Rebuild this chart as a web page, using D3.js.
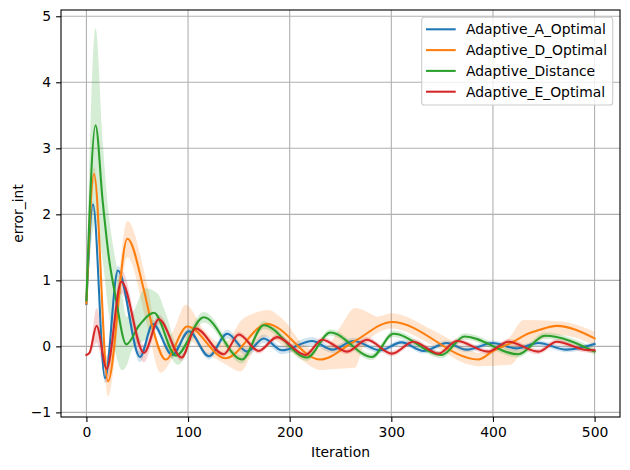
<!DOCTYPE html>
<html>
<head>
<meta charset="utf-8">
<script src="https://cdn.jsdelivr.net/npm/d3@7"></script>
<style>
  body { margin: 0; background: #fff; }
  svg { display: block; font-family: "DejaVu Sans", sans-serif; }
</style>
</head>
<body>
<div id="chart"></div>
<script>
// valori: [iterazione, media]
const seriesNames = ["Adaptive_A_Optimal", "Adaptive_D_Optimal", "Adaptive_Distance", "Adaptive_E_Optimal"];
const seriesColors = ["#1f77b4", "#ff7f0e", "#2ca02c", "#d62728"];
const iterTicks = [0, 100, 200, 300, 400, 500];
const valueTicks = [-1, 0, 1, 2, 3, 4, 5];

const aOptimal = [[0,0.64],[6.5,2.15],[18.3,-0.48],[31,1.15],[52.7,-0.16],[65.4,0.34],[84.5,-0.13],[100.8,0.23],
  [120.5,-0.15],[138.5,0.19],[158,-0.08],[174.5,0.12],[192.5,-0.06],[222,0.08],[242,-0.05],[263,0.08],[289,-0.06],
  [310,0.06],[331.6,-0.07],[354.6,0.05],[374,-0.05],[400,0.05],[423,-0.03],[444.6,0.05],[472.5,-0.05],[500,0.035]];
const dOptimal = [[0,0.65],[7.5,2.61],[21.2,-0.53],[40.3,1.63],[56.6,0.85],[64.8,0.3],[77.9,-0.2],[99.2,0.30],
  [136.8,-0.18],[177.8,0.34],[230,-0.2],[263,0.07],[300.6,0.37],[385.7,-0.2],[400,-0.07],[420,0.07],[431.5,0.17],
  [446,0.25],[462.7,0.31],[500,0.12]];
const distance = [[0,0.70],[9,3.35],[16,2.2],[22,1.36],[28.7,0.75],[39.3,0.03],[52,0.32],[66.4,0.51],[88,-0.14],
  [115.5,0.44],[153,-0.2],[174.5,0.32],[217,-0.17],[240,0.21],[281,-0.16],[302,0.19],[349.7,-0.13],[372,0.15],
  [425,-0.12],[451,0.16],[500,-0.08]];
const eOptimal = [[0,-0.13],[3,-0.1],[10,0.31],[20,-0.34],[34.4,0.98],[56.6,-0.1],[71.3,0.41],[93.6,-0.17],
  [107.4,0.27],[135,-0.12],[150,0.18],[169.5,-0.07],[187.6,0.14],[215.4,-0.13],[232,0.1],[256.4,-0.08],[276,0.1],
  [300.6,-0.11],[321.8,0.07],[346.4,-0.11],[364.4,0.08],[395.5,-0.08],[415,0.07],[444.6,-0.08],[462.7,0.07],
  [490,-0.05],[500,-0.06]];

// bande: [iterazione, minimo, massimo]
const aBand = [[0,0.62,0.66],[6.5,2.05,2.2],[18.3,-0.56,-0.4],[31,1.05,1.22],[52.7,-0.24,-0.08],[65.4,0.28,0.4],
  [84.5,-0.18,-0.08],[100.8,0.18,0.28],[120.5,-0.2,-0.1],[138.5,0.12,0.25],[158,-0.15,-0.02],[174.5,0.05,0.18],
  [192.5,-0.12,0.0],[222,0.02,0.14],[242,-0.1,0.0],[263,0.03,0.13],[289,-0.1,-0.02],[310,0.02,0.1],
  [331.6,-0.11,-0.03],[354.6,0.01,0.09],[374,-0.09,-0.01],[400,0.01,0.09],[423,-0.07,0.01],[444.6,0.01,0.09],
  [472.5,-0.09,-0.01],[500,0.0,0.07]];
const dBand = [[0,0.6,0.7],[7.5,2.48,2.72],[21.2,-0.76,-0.3],[40.3,1.35,1.9],[60,0.3,0.92],[73,-0.4,-0.02],
  [86,-0.15,0.25],[97.5,0.12,0.63],[115.5,-0.08,0.25],[132,-0.23,0.05],[140,-0.3,0.1],[151.6,-0.38,0.38],
  [165,-0.05,0.5],[178,0.15,0.55],[194,0.0,0.4],[214,-0.23,0.02],[224,-0.33,-0.05],[232,-0.36,-0.02],
  [237,-0.35,0.0],[250,-0.34,0.3],[264.5,-0.32,0.58],[271,-0.06,0.56],[279,0.12,0.5],[286,0.2,0.45],
  [300.6,0.27,0.5],[340,0.02,0.25],[377,-0.28,-0.05],[386,-0.3,-0.1],[417,-0.28,0.15],[430,-0.05,0.4],
  [466,0.17,0.38],[500,0.02,0.22]];
const cBand = [[0,0.66,0.74],[9,1.9,4.82],[16,1.3,3.1],[22,0.5,2.0],[28.7,-0.1,1.3],[35,-0.36,0.8],
  [39.3,-0.3,0.45],[45,-0.05,0.5],[58,0.1,0.88],[70,0.3,0.8],[78,0.0,0.5],[90,-0.28,0.02],[115.5,0.36,0.52],
  [153,-0.26,-0.14],[174.5,0.26,0.38],[217,-0.22,-0.12],[240,0.16,0.26],[281,-0.21,-0.11],[302,0.14,0.24],
  [349.7,-0.18,-0.08],[372,0.1,0.2],[425,-0.17,-0.07],[451,0.11,0.21],[500,-0.13,-0.03]];
const eBand = [[0,-0.15,-0.11],[3,-0.13,-0.07],[10,0.05,0.58],[20,-0.55,-0.15],[34.4,0.8,1.15],
  [56.6,-0.24,0.02],[71.3,0.34,0.48],[93.6,-0.22,-0.12],[107.4,0.23,0.31],[135,-0.16,-0.08],[150,0.14,0.22],
  [169.5,-0.11,-0.03],[187.6,0.1,0.18],[215.4,-0.17,-0.09],[232,0.06,0.14],[256.4,-0.12,-0.04],[276,0.06,0.14],
  [300.6,-0.15,-0.07],[321.8,0.03,0.11],[346.4,-0.15,-0.07],[364.4,0.04,0.12],[395.5,-0.12,-0.04],
  [415,0.03,0.11],[444.6,-0.12,-0.04],[462.7,0.03,0.11],[490,-0.09,-0.01],[500,-0.1,-0.02]];

const means = [aOptimal, dOptimal, distance, eOptimal];
const bands = [aBand, dBand, cBand, eBand];

const WIDTH = 630, HEIGHT = 470;
const margin = { top: 10, right: 10, bottom: 53, left: 61 };
const FONT = 13.9;

const svg = d3.select("#chart").append("svg")
  .attr("width", WIDTH).attr("height", HEIGHT);

const x = d3.scaleLinear().domain([-25, 525]).range([margin.left, WIDTH - margin.right]);
const y = d3.scaleLinear().domain([-1.07, 5.095]).range([HEIGHT - margin.bottom, margin.top]);

// griglia
const grid = svg.append("g").attr("stroke", "#b0b0b0").attr("stroke-width", 1.1);
grid.selectAll("line.vx").data(iterTicks).enter().append("line")
  .attr("x1", d => x(d)).attr("x2", d => x(d))
  .attr("y1", y.range()[1]).attr("y2", y.range()[0]);
grid.selectAll("line.hy").data(valueTicks).enter().append("line")
  .attr("y1", d => y(d)).attr("y2", d => y(d))
  .attr("x1", x.range()[0]).attr("x2", x.range()[1]);

svg.append("clipPath").attr("id", "plot-clip").append("rect")
  .attr("x", x.range()[0]).attr("y", y.range()[1])
  .attr("width", x.range()[1] - x.range()[0]).attr("height", y.range()[0] - y.range()[1]);

const plot = svg.append("g").attr("clip-path", "url(#plot-clip)");

const area = d3.area()
  .x(d => x(d[0])).y0(d => y(d[1])).y1(d => y(d[2]))
  .curve(d3.curveMonotoneX);
const line = d3.line()
  .x(d => x(d[0])).y(d => y(d[1]))
  .curve(d3.curveMonotoneX);

// prima le bande (zorder 1), poi le linee
bands.forEach((b, i) => {
  plot.append("path").attr("d", area(b))
    .attr("fill", seriesColors[i]).attr("fill-opacity", 0.2);
});
means.forEach((m, i) => {
  plot.append("path").attr("d", line(m))
    .attr("fill", "none").attr("stroke", seriesColors[i])
    .attr("stroke-width", 2.08).attr("stroke-linejoin", "round").attr("stroke-linecap", "square");
});

// assi
const xAxis = svg.append("g")
  .attr("transform", `translate(0,${y.range()[0]})`)
  .call(d3.axisBottom(x).tickValues(iterTicks).tickSize(4.9).tickPadding(4.9).tickFormat(d3.format("d")));
const yAxis = svg.append("g")
  .attr("transform", `translate(${x.range()[0]},0)`)
  .call(d3.axisLeft(y).tickValues(valueTicks).tickSize(4.9).tickPadding(4.9).tickFormat(d3.format("d")));
[xAxis, yAxis].forEach(a => {
  a.select(".domain").remove();
  a.selectAll(".tick line").attr("stroke", "#000").attr("stroke-width", 1.1);
  a.selectAll(".tick text").attr("font-size", FONT).attr("fill", "#000")
    .attr("font-family", "DejaVu Sans");
});

// cornice
svg.append("rect")
  .attr("x", x.range()[0]).attr("y", y.range()[1])
  .attr("width", x.range()[1] - x.range()[0]).attr("height", y.range()[0] - y.range()[1])
  .attr("fill", "none").attr("stroke", "#000").attr("stroke-width", 1.1);

svg.append("text")
  .attr("x", (x.range()[0] + x.range()[1]) / 2).attr("y", 457)
  .attr("text-anchor", "middle").attr("font-size", FONT)
  .text("Iteration");
svg.append("text")
  .attr("transform", `translate(22.5,${(y.range()[0] + y.range()[1]) / 2}) rotate(-90)`)
  .attr("text-anchor", "middle").attr("font-size", FONT)
  .text("error_int");

// legenda
const legend = svg.append("g");
legend.append("rect")
  .attr("x", 421.7).attr("y", 17.3).attr("width", 191).attr("height", 87.7)
  .attr("rx", 2.8).attr("fill", "#fff").attr("fill-opacity", 0.8)
  .attr("stroke", "#cccccc").attr("stroke-width", 1.1);
seriesNames.forEach((name, i) => {
  const cy = 29.3 + i * 20.8;
  legend.append("line")
    .attr("x1", 426).attr("x2", 455.7).attr("y1", cy).attr("y2", cy)
    .attr("stroke", seriesColors[i]).attr("stroke-width", 2.08);
  legend.append("text")
    .attr("x", 466).attr("y", cy).attr("dy", "0.36em")
    .attr("font-size", FONT).text(name);
});
</script>
</body>
</html>
